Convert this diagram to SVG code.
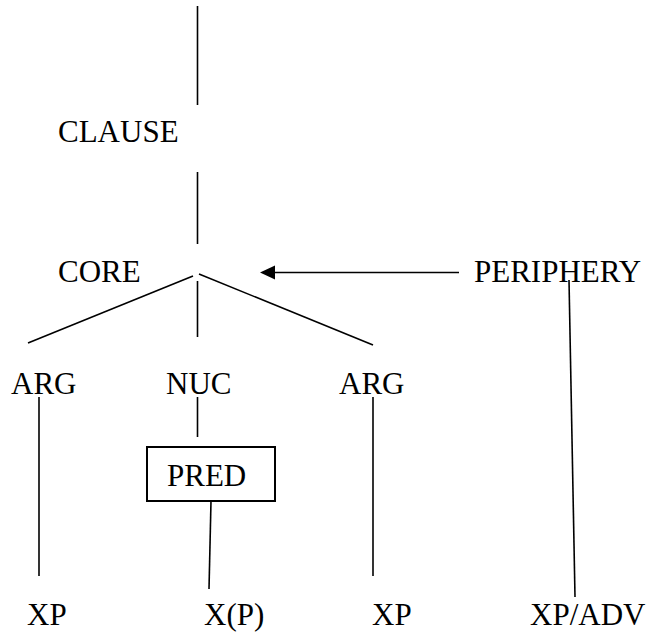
<svg xmlns="http://www.w3.org/2000/svg" width="647" height="643" viewBox="0 0 647 643">
  <style>
    .lbl { font-family: "Liberation Serif", "DejaVu Serif", serif; font-size: 31px; fill: #000; }
    .edge { stroke: #000; stroke-width: 1.6; fill: none; }
    .box { stroke: #000; stroke-width: 2; fill: #fff; }
  </style>
  <rect width="647" height="643" fill="#fff"/>

  <!-- tree edges, the PERIPHERY arrow and its filled head -->
  <g id="connectors">
    <line class="edge" x1="197.5" y1="6" x2="197.5" y2="105"/>
    <line class="edge" x1="197.5" y1="172" x2="197.5" y2="244"/>
    <line class="edge" x1="193" y1="276" x2="28" y2="343"/>
    <line class="edge" x1="197.5" y1="281" x2="197.5" y2="337"/>
    <line class="edge" x1="199" y1="274" x2="373" y2="345"/>
    <line class="edge" x1="459" y1="272.5" x2="274" y2="272.5"/>
    <path d="M260,272.5 L275,265.5 L275,279.5 Z" fill="#000"/>
    <line class="edge" x1="569" y1="280" x2="575" y2="597"/>
    <line class="edge" x1="39" y1="397" x2="39" y2="576"/>
    <line class="edge" x1="197.5" y1="397" x2="197.5" y2="437"/>
    <line class="edge" x1="211" y1="501" x2="209" y2="589"/>
    <line class="edge" x1="373" y1="397" x2="373" y2="576"/>
  </g>

  <g id="clause"><text class="lbl" x="58" y="142">CLAUSE</text></g>
  <g id="core"><text class="lbl" x="58" y="282">CORE</text></g>
  <g id="periphery"><text class="lbl" x="474" y="282">PERIPHERY</text></g>
  <g id="arg-left"><text class="lbl" x="11" y="394">ARG</text></g>
  <g id="nuc"><text class="lbl" x="166" y="394">NUC</text></g>
  <g id="arg-right"><text class="lbl" x="339" y="394">ARG</text></g>
  <g id="pred">
    <rect class="box" x="147" y="447" width="128" height="54"/>
    <text class="lbl" x="167" y="486">PRED</text>
  </g>
  <g id="xp-left"><text class="lbl" x="27" y="625">XP</text></g>
  <g id="x-p"><text class="lbl" x="204" y="625">X(P)</text></g>
  <g id="xp-right"><text class="lbl" x="372" y="625">XP</text></g>
  <g id="xp-adv"><text class="lbl" x="530" y="625">XP/ADV</text></g>
</svg>
